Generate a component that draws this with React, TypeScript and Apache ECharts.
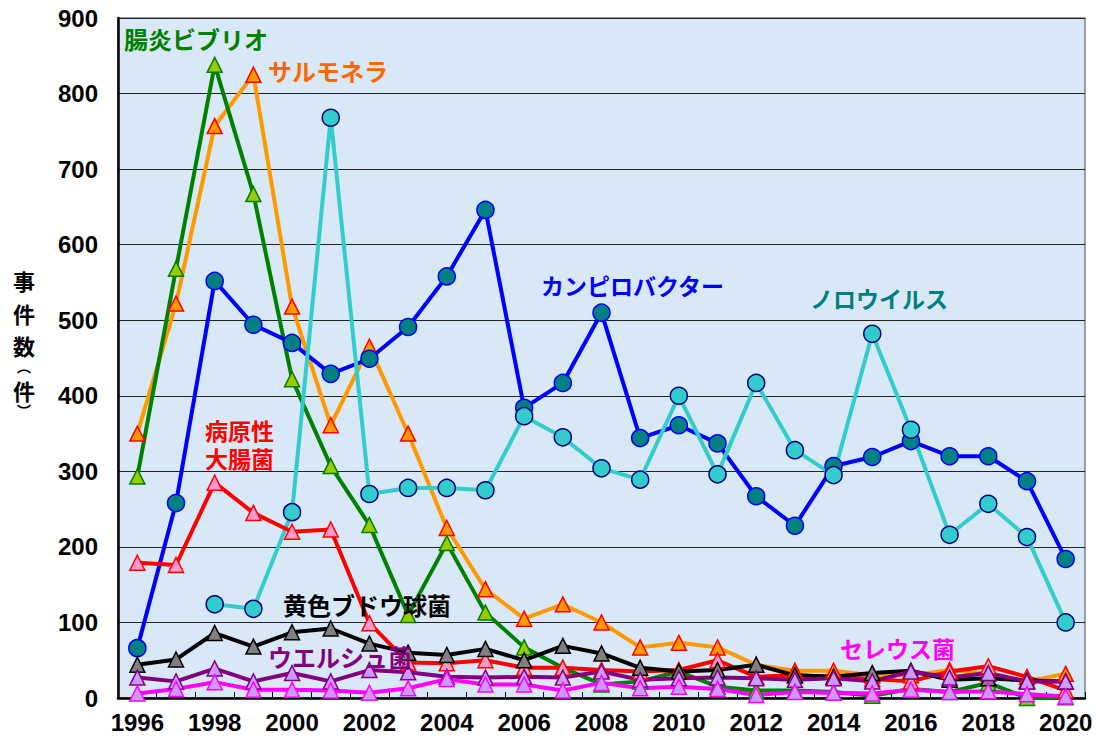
import React, { useEffect, useRef } from "react";
import * as echarts from "echarts";

const years = ["1996","1997","1998","1999","2000","2001","2002","2003","2004","2005","2006","2007","2008","2009","2010","2011","2012","2013","2014","2015","2016","2017","2018","2019","2020"];
const yTicks = [0, 100, 200, 300, 400, 500, 600, 700, 800, 900];

const vibrio = [293, 568, 838, 667, 422, 307, 229, 110, 205, 113, 67, 40, 18, 22, 35, 15, 10, 10, 8, 3, 12, 8, 20, 0, 1];
const salmonella = [350, 522, 757, 825, 518, 361, 465, 350, 225, 144, 105, 124, 100, 67, 73, 67, 44, 36, 36, 30, 30, 37, 32, 22, 32];
const campylobacter = [66, 258, 552, 494, 470, 429, 449, 491, 558, 646, 384, 417, 510, 344, 361, 337, 267, 228, 307, 319, 340, 320, 320, 287, 184];
const norovirus = [null, null, 124, 118, 246, 768, 270, 278, 278, 275, 373, 345, 304, 289, 400, 296, 417, 328, 295, 482, 355, 216, 257, 213, 100];
const ecoli = [179, 176, 285, 245, 220, 223, 99, 47, 46, 50, 40, 40, 37, 35, 37, 50, 28, 30, 28, 25, 22, 35, 42, 28, 10];
const staph = [44, 51, 86, 68, 87, 92, 72, 60, 57, 65, 50, 69, 59, 40, 35, 37, 44, 30, 28, 33, 36, 24, 26, 23, 22];
const perfringens = [27, 22, 39, 22, 33, 22, 37, 34, 28, 27, 28, 27, 35, 24, 26, 27, 26, 24, 26, 22, 35, 27, 33, 22, 22];
const cereus = [6, 12, 21, 11, 11, 10, 7, 13, 25, 18, 18, 10, 20, 13, 15, 12, 4, 8, 7, 6, 11, 8, 9, 5, 2];

function lineSeries(name: string, data: (number | null)[], line: string, fill: string, border: string, symbol: string, size: number) {
  return {
    name,
    type: "line",
    data,
    symbol,
    symbolSize: size,
    showAllSymbol: true,
    lineStyle: { color: line, width: 4 },
    itemStyle: { color: fill, borderColor: border, borderWidth: 1.5 },
    emphasis: { disabled: true },
  };
}

export default function App() {
  const ref = useRef<HTMLDivElement>(null);
  useEffect(() => {
    if (!ref.current) return;
    const chart = echarts.init(ref.current, null, { renderer: "svg" });
    const labelFont = "'Noto Sans CJK JP', sans-serif";
    const lbl = (text: string, x: number, y: number, color: string, size = 23, lineHeight?: number) => ({
      type: "text",
      x,
      y,
      z: 100,
      style: { text, fill: color, font: `bold ${size}px ${labelFont}`, textVerticalAlign: "middle", lineHeight },
    });
    const axisChar = (text: string, y: number, size: number) => ({
      type: "text",
      x: 24,
      y,
      style: { text, fill: "#000", font: `bold ${size}px ${labelFont}`, textAlign: "center", textVerticalAlign: "middle" },
    });
    chart.setOption({
      animation: false,
      backgroundColor: "#ffffff",
      grid: {
        left: 118,
        top: 18,
        right: 14,
        bottom: 46,
        show: true,
        backgroundColor: "#d9e8f6",
        borderColor: "#7f7f7f",
        borderWidth: 1.5,
      },
      xAxis: {
        type: "category",
        data: years,
        boundaryGap: true,
        axisLine: { show: true, lineStyle: { color: "#000", width: 2.5 } },
        axisTick: { show: true, inside: true, interval: 0, length: 6, lineStyle: { color: "#000", width: 1 } },
        axisLabel: {
          interval: 1,
          color: "#000",
          fontSize: 24,
          fontWeight: "bold",
          fontFamily: "'Liberation Sans', Arial, sans-serif",
          margin: 12,
        },
      },
      yAxis: {
        type: "value",
        min: 0,
        max: 900,
        interval: 100,
        axisLine: { show: true, lineStyle: { color: "#000", width: 2.5 } },
        axisTick: { show: false },
        splitLine: { show: true, lineStyle: { color: "#222", width: 1 } },
        axisLabel: {
          color: "#000",
          fontSize: 24,
          fontWeight: "bold",
          fontFamily: "'Liberation Sans', Arial, sans-serif",
          margin: 20,
          formatter: (v: number) => (yTicks.includes(v) ? String(v) : ""),
        },
      },
      series: [
        lineSeries("サルモネラ", salmonella, "#ff9900", "#ff9900", "#ff0000", "triangle", 15),
        lineSeries("腸炎ビブリオ", vibrio, "#008000", "#99cc00", "#008000", "triangle", 15),
        lineSeries("カンピロバクター", campylobacter, "#0000ff", "#008080", "#0000ff", "circle", 17),
        lineSeries("ノロウイルス", norovirus, "#33cccc", "#33cccc", "#000080", "circle", 17),
        lineSeries("病原性大腸菌", ecoli, "#ff0000", "#ff99cc", "#ff0000", "triangle", 15),
        lineSeries("黄色ブドウ球菌", staph, "#000000", "#808080", "#000000", "triangle", 15),
        lineSeries("ウエルシュ菌", perfringens, "#800080", "#cc99ff", "#800080", "triangle", 15),
        lineSeries("セレウス菌", cereus, "#ff00ff", "#cc99ff", "#ff00ff", "triangle", 15),
      ],
      graphic: [
        lbl("腸炎ビブリオ", 124, 38, "#008000", 24),
        lbl("サルモネラ", 268, 70, "#ff6600", 24),
        lbl("カンピロバクター", 541, 285, "#0000ff"),
        lbl("ノロウイルス", 810, 298, "#008080"),
        lbl("病原性\n大腸菌", 205, 444, "#ff0000", 23, 28),
        lbl("黄色ブドウ球菌", 283, 604, "#000000", 24),
        lbl("ウエルシュ菌", 268, 656, "#800080", 24),
        lbl("セレウス菌", 840, 648, "#ff00ff", 23),
        axisChar("事", 280, 22),
        axisChar("件", 313, 22),
        axisChar("数", 345, 22),
        axisChar("︵", 366, 14),
        axisChar("件", 390, 22),
        axisChar("︶", 410, 14),
      ],
    });
    return () => chart.dispose();
  }, []);
  return (
    <div
      ref={ref}
      style={{ position: "fixed", left: 0, top: 0, width: 1099, height: 744, background: "#fff" }}
    />
  );
}
